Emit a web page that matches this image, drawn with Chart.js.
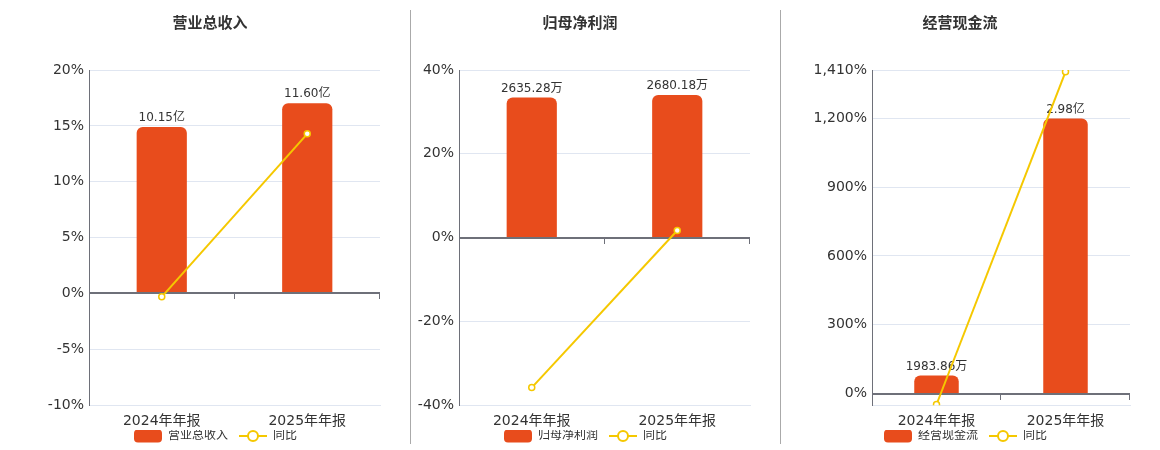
<!DOCTYPE html>
<html>
<head>
<meta charset="utf-8">
<script src="https://cdn.jsdelivr.net/npm/chart.js@4.4.1/dist/chart.umd.min.js"></script>
<style>
body{margin:0;background:#fff;width:1160px;height:450px;position:relative;overflow:hidden}
.box{position:absolute;top:0;height:450px;width:350px}
.sep{position:absolute;top:10px;height:434px;width:1px;background:#aaa}
</style>
</head>
<body>
<div class="box" style="left:40px"><canvas id="c1"></canvas></div>
<div class="box" style="left:410px"><canvas id="c2"></canvas></div>
<div class="box" style="left:790px"><canvas id="c3"></canvas></div>
<div class="sep" style="left:410px"></div>
<div class="sep" style="left:780px"></div>
<script>
'use strict'

const categories = ['2024年年报', '2025年年报'];
const yoyName = '同比';

// 营业总收入 (亿)
const revTitle = '营业总收入';
const revValues = [10.15, 11.60];
const revLabels = ['10.15亿', '11.60亿'];
const revYoy = [-0.3, 14.29];
const revTicks = [-10, -5, 0, 5, 10, 15, 20];

// 归母净利润 (万)
const profitTitle = '归母净利润';
const profitValues = [2635.28, 2680.18];
const profitLabels = ['2635.28万', '2680.18万'];
const profitYoy = [-35.8, 1.70];
const profitTicks = [-40, -20, 0, 20, 40];

// 经营现金流 (万)
const cashTitle = '经营现金流';
const cashValues = [1983.86, 29800];
const cashLabels = ['1983.86万', '2.98亿'];
const cashYoy = [-47, 1402];
const cashTicks = [0, 300, 600, 900, 1200, 1410];

const BAR = '#e84c1c';
const LINE = '#f5c800';
const FONT = '"DejaVu Sans", "Noto Sans CJK SC", sans-serif';

// legend icons (transparent margin on the left gives the gap between items)
const GAP = 11;
function barIcon() {
    const c = document.createElement('canvas');
    c.width = 28 + GAP; c.height = 14;
    const g = c.getContext('2d');
    g.fillStyle = BAR;
    g.beginPath();
    g.roundRect(GAP, 0.5, 28, 13, 4);
    g.fill();
    return c;
}
function lineIcon() {
    const c = document.createElement('canvas');
    c.width = 28 + GAP; c.height = 14;
    const g = c.getContext('2d');
    g.strokeStyle = LINE;
    g.lineWidth = 2;
    g.beginPath(); g.moveTo(GAP, 7); g.lineTo(GAP + 28, 7); g.stroke();
    g.fillStyle = '#fff';
    g.beginPath(); g.arc(GAP + 14, 7, 5, 0, Math.PI * 2); g.fill(); g.stroke();
    return c;
}
const icons = [barIcon(), lineIcon()];

// zero axis line + bar value labels
const extras = {
    id: 'extras',
    afterDatasetDraw(chart, args) {
        if (args.index !== 0) return;
        const ctx = chart.ctx;
        const x = chart.scales.x, y = chart.scales.y;
        const py = Math.round(y.getPixelForValue(0));
        ctx.save();
        ctx.strokeStyle = '#6e7079';
        ctx.lineWidth = 2;
        ctx.beginPath(); ctx.moveTo(x.left, py); ctx.lineTo(x.right, py); ctx.stroke();
        ctx.lineWidth = 1;
        const n = chart.data.labels.length;
        for (let k = 1; k <= n; k++) {
            const px = Math.round(x.left + k * x.width / n) - 0.5;
            ctx.beginPath(); ctx.moveTo(px, py); ctx.lineTo(px, py + 6); ctx.stroke();
        }
        const labels = chart.options.plugins.extras.labels;
        ctx.fillStyle = '#333';
        ctx.font = '12px ' + FONT;
        ctx.textAlign = 'center';
        ctx.textBaseline = 'bottom';
        chart.getDatasetMeta(0).data.forEach((bar, i) => {
            ctx.fillText(labels[i], bar.x, bar.y - 3);
        });
        ctx.restore();
    }
};

function makeChart(id, title, values, labels, yoy, ticks, yMin, barRange, yWidth) {
    const ctx = document.getElementById(id).getContext('2d');
    return new Chart(ctx, {
        type: 'bar',
        data: {
            labels: categories,
            datasets: [
                {
                    type: 'bar',
                    label: title,
                    data: values,
                    yAxisID: 'yb',
                    backgroundColor: BAR,
                    borderRadius: { topLeft: 6, topRight: 6 },
                    borderSkipped: 'bottom',
                    barPercentage: 0.345,
                    categoryPercentage: 1,
                    order: 1
                },
                {
                    type: 'line',
                    label: yoyName,
                    data: yoy,
                    yAxisID: 'y',
                    borderColor: LINE,
                    borderWidth: 2,
                    pointRadius: 3,
                    pointBorderWidth: 1.5,
                    pointBackgroundColor: '#fff',
                    pointBorderColor: LINE,
                    tension: 0,
                    order: 0
                }
            ]
        },
        options: {
            responsive: true,
            maintainAspectRatio: false,
            animation: false,
            layout: { padding: { top: 0, right: 10, bottom: -2, left: 0 } },
            plugins: {
                title: {
                    display: true, text: title, color: '#333',
                    font: { size: 15, weight: 'bold', family: FONT },
                    padding: { top: 15, bottom: 37 }
                },
                legend: {
                    position: 'bottom',
                    onClick: null,
                    labels: {
                        usePointStyle: true,
                        pointStyleWidth: 28 + GAP,
                        color: '#333',
                        padding: 0,
                        font: { size: 12, family: FONT },
                        sort: (a, b) => a.datasetIndex - b.datasetIndex,
                        generateLabels: (chart) => {
                            const items = Chart.defaults.plugins.legend.labels.generateLabels(chart);
                            items.forEach((it) => { it.pointStyle = icons[it.datasetIndex]; });
                            return items;
                        }
                    }
                },
                tooltip: { enabled: false },
                extras: { labels: labels }
            },
            scales: {
                x: {
                    grid: { display: false },
                    border: { display: true, color: '#e0e6f1' },
                    ticks: { color: '#333', font: { size: 14, family: FONT }, padding: 0 }
                },
                y: {
                    position: 'left',
                    min: yMin,
                    max: ticks[ticks.length - 1],
                    afterBuildTicks: (s) => { s.ticks = ticks.map(v => ({ value: v })); },
                    afterFit: (s) => { s.width = yWidth; },
                    grid: { color: '#e0e6f1', drawTicks: false },
                    border: { display: true, color: '#6e7079' },
                    ticks: {
                        color: '#333', padding: 5,
                        font: { size: 14, family: FONT },
                        callback: (v) => v.toLocaleString('en-US') + '%'
                    }
                },
                yb: {
                    display: false,
                    min: barRange[0],
                    max: barRange[1]
                }
            }
        },
        plugins: [extras]
    });
}

makeChart('c1', revTitle, revValues, revLabels, revYoy, revTicks, revTicks[0], [-6.81, 13.62], 49);
makeChart('c2', profitTitle, profitValues, profitLabels, profitYoy, profitTicks, profitTicks[0], [-3152, 3152], 49);
makeChart('c3', cashTitle, cashValues, cashLabels, cashYoy, cashTicks, -50, [-1230, 35058], 82);
</script>
</body>
</html>
